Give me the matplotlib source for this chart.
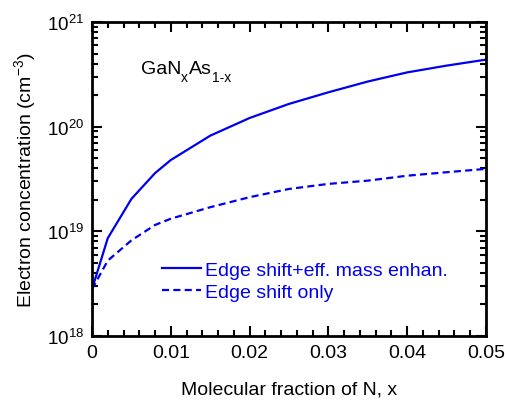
import matplotlib
matplotlib.use("Agg")
import matplotlib.pyplot as plt
from matplotlib.ticker import FixedLocator, LogLocator, NullFormatter, FuncFormatter
import numpy as np

plt.rcParams['font.family'] = ['Liberation Sans', 'DejaVu Sans']
plt.rcParams['mathtext.fontset'] = 'custom'
plt.rcParams['mathtext.rm'] = 'Liberation Sans'
plt.rcParams['mathtext.it'] = 'Liberation Sans'
plt.rcParams['mathtext.bf'] = 'Liberation Sans'

# Data
x_vals = [0.0, 0.002, 0.005, 0.008, 0.01, 0.015, 0.02, 0.025, 0.03, 0.035, 0.04, 0.045, 0.05]
n_mass = [2.8e18, 8.6e18, 2.04e19, 3.6e19, 4.8e19, 8.2e19, 1.21e20, 1.65e20, 2.13e20, 2.7e20, 3.3e20, 3.83e20, 4.37e20]
n_edge = [2.8e18, 5.25e18, 8.2e18, 1.15e19, 1.32e19, 1.7e19, 2.12e19, 2.54e19, 2.84e19, 3.05e19, 3.4e19, 3.67e19, 3.95e19]
label_mass = "Edge shift+eff. mass enhan."
label_edge = "Edge shift only"
xticks = [0, 0.01, 0.02, 0.03, 0.04, 0.05]
xticklabels = ["0", "0.01", "0.02", "0.03", "0.04", "0.05"]

blue = '#0000ee'
fig = plt.figure(figsize=(5.05, 4.02), dpi=100)
ax = fig.add_axes([92/505, 1 - 337/402, (486-92)/505, (337-23)/402])

ax.plot(x_vals, n_mass, color=blue, lw=1.6, ls='-', label=label_mass)
ax.plot(x_vals, n_edge, color=blue, lw=1.6, ls=(0, (3.2, 1.9)), label=label_edge)

ax.set_yscale('log')
ax.set_xlim(0, 0.05)
ax.set_ylim(1e18, 1e21)

ax.xaxis.set_major_locator(FixedLocator(xticks))
ax.set_xticklabels(xticklabels)
ax.xaxis.set_minor_locator(FixedLocator(np.arange(0, 0.0501, 0.002)))
ax.yaxis.set_major_locator(LogLocator(base=10, numticks=10))
ax.yaxis.set_minor_locator(LogLocator(base=10, subs=np.arange(2, 10), numticks=20))
ax.yaxis.set_minor_formatter(NullFormatter())
ax.yaxis.set_major_formatter(FuncFormatter(lambda v, p: r'$10^{%d}$' % int(round(np.log10(v)))))

ax.tick_params(which='both', direction='in', top=True, right=True, width=1.5)
ax.tick_params(axis='x', labelsize=14)
ax.tick_params(axis='y', labelsize=13.5)
ax.tick_params(which='major', length=7, pad=6)
ax.tick_params(which='minor', length=4)
for s in ax.spines.values():
    s.set_linewidth(2)

ax.set_xlabel("Molecular fraction of N, x", fontsize=14, labelpad=14)
ax.set_ylabel(r"Electron concentration (cm$^{-3}$)", fontsize=14, labelpad=6)

H = 402
ax.text(140.7, H - 74.3, "GaN", transform=None, fontsize=14, ha='left', va='baseline')
ax.text(181.0, H - 82.3, "x", transform=None, fontsize=10, ha='left', va='baseline')
ax.text(188.5, H - 74.3, "As", transform=None, fontsize=14, ha='left', va='baseline')
ax.text(212.0, H - 82.3, "1-x", transform=None, fontsize=10, ha='left', va='baseline')

leg = ax.legend(loc='upper left', bbox_to_anchor=((162-92)/394, (337-262)/314), frameon=False,
                fontsize=14, handlelength=2.0, handletextpad=0.2, labelspacing=0.25, borderpad=0,
                borderaxespad=0)
for t in leg.get_texts():
    t.set_color(blue)

fig.savefig("out.png", dpi=100)
